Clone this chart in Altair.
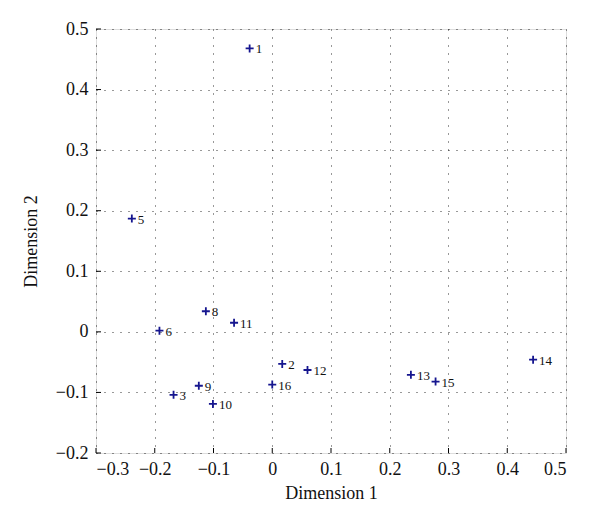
import altair as alt
import pandas as pd

labels = ["1", "2", "3", "5", "6", "8", "9", "10", "11", "12", "13", "14", "15", "16"]
dim1 = [-0.0385, 0.017, -0.168, -0.239, -0.192, -0.113, -0.125, -0.101, -0.065, 0.060, 0.236, 0.444, 0.278, 0.000]
dim2 = [0.468, -0.053, -0.104, 0.187, 0.002, 0.034, -0.089, -0.119, 0.015, -0.063, -0.071, -0.046, -0.082, -0.087]
x_ticks = [-0.3, -0.2, -0.1, 0.0, 0.1, 0.2, 0.3, 0.4, 0.5]
y_ticks = [-0.2, -0.1, 0.0, 0.1, 0.2, 0.3, 0.4, 0.5]

df = pd.DataFrame({"d1": dim1, "d2": dim2, "label": labels})
xt = pd.DataFrame({"v": x_ticks})
yt = pd.DataFrame({"v": y_ticks})

W, H = 470, 424
FONT = "Liberation Serif"
label_expr = "datum.value == 0 ? '0' : format(datum.value, '.1f')"

xscale = alt.Scale(domain=[-0.3, 0.5], nice=False, zero=False)
yscale = alt.Scale(domain=[-0.2, 0.5], nice=False, zero=False)

xaxis = alt.Axis(values=x_ticks, labelExpr=label_expr, title="Dimension 1",
                 grid=True, gridDash=[1, 7], gridColor="#000", gridOpacity=0.8,
                 ticks=False, domain=False, labelFont=FONT, labelFontSize=18,
                 labelColor="#111", labelPadding=7, titleFont=FONT, titleFontSize=18,
                 titleFontWeight="normal", titleColor="#111", titlePadding=6)
yaxis = alt.Axis(values=y_ticks, labelExpr=label_expr, title="Dimension 2",
                 grid=True, gridDash=[1, 7], gridColor="#000", gridOpacity=0.8,
                 ticks=False, domain=False, labelFont=FONT, labelFontSize=18,
                 labelColor="#111", labelPadding=8, titleFont=FONT, titleFontSize=18,
                 titleFontWeight="normal", titleColor="#111", titlePadding=15)

points = alt.Chart(df).mark_point(
    shape="M-1,0L1,0M0,-1L0,1", size=64, filled=False, color="#16168f",
    strokeWidth=1.8, opacity=1
).encode(
    x=alt.X("d1:Q", scale=xscale, axis=xaxis),
    y=alt.Y("d2:Q", scale=yscale, axis=yaxis),
)

texts = alt.Chart(df).mark_text(
    align="left", baseline="middle", dx=6, dy=1, font=FONT, fontSize=13, color="#111"
).encode(
    x=alt.X("d1:Q", scale=xscale),
    y=alt.Y("d2:Q", scale=yscale),
    text="label:N",
)

xticks = alt.Chart(xt).mark_rule(color="#000", strokeWidth=1).encode(
    x=alt.X("v:Q", scale=xscale), y=alt.value(H), y2=alt.value(H - 5)
)
yticks = alt.Chart(yt).mark_rule(color="#000", strokeWidth=1).encode(
    y=alt.Y("v:Q", scale=yscale), x=alt.value(0), x2=alt.value(5)
)

chart = alt.layer(xticks, yticks, points, texts).properties(
    width=W, height=H,
    autosize=alt.AutoSizeParams(type="none"),
    padding={"left": 88, "top": 21, "right": 26, "bottom": 66},
).configure_view(stroke="#000", strokeWidth=1.3).configure(background="white")

chart.save("out.html", embed_options={"renderer": "svg", "actions": False})
